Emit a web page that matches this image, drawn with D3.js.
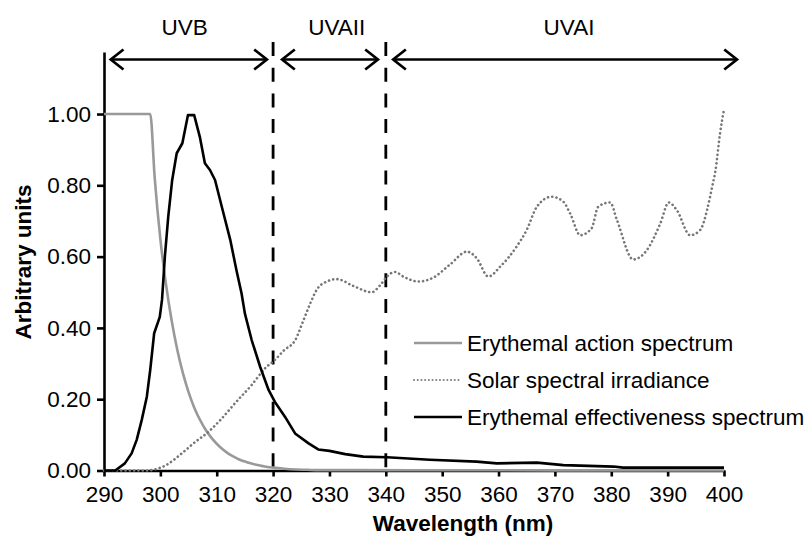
<!DOCTYPE html>
<html>
<head>
<meta charset="utf-8">
<script src="https://cdn.jsdelivr.net/npm/d3@7/dist/d3.min.js"></script>
<style>
  html, body { margin: 0; padding: 0; background: #fff; }
  svg { display: block; }
  text { font-family: "Liberation Sans", Arial, Helvetica, sans-serif; fill: #000; }
</style>
</head>
<body>
<svg id="chart" width="806" height="540"></svg>
<script>
// ---- Data ----
const xTicks = [290, 300, 310, 320, 330, 340, 350, 360, 370, 380, 390, 400];
const yTicks = [0, 0.2, 0.4, 0.6, 0.8, 1.0];

const bandBounds = [320, 340];
const bands = [
  { name: "UVB",   from: 291.2, to: 318.9, label: 304.3 },
  { name: "UVAII", from: 321.6, to: 338.6, label: 331.3 },
  { name: "UVAI",  from: 341.3, to: 402.3, label: 372.5 }
];

const legendLabels = ["Erythemal action spectrum", "Solar spectral irradiance", "Erythemal effectiveness spectrum"];

// Erythemal action spectrum  [wavelength nm, value]
const actionSpectrum = [
  [290,1.000],[292,1.000],[294,1.000],[296,1.000],[298.2,1.000],[299,0.820],[300,0.649],[301,0.522],
  [302,0.421],[303,0.339],[304,0.273],[305,0.220],[306,0.177],[307,0.143],[308,0.115],
  [309,0.093],[310,0.075],[311,0.060],[312,0.048],[313,0.039],[314,0.031],[315,0.025],
  [316,0.020],[317,0.016],[318,0.013],[319,0.010],[320,0.008],[322,0.005],[324,0.003],
  [326,0.002],[328,0.001],[335,0.001],[350,0.0007],[370,0.0004],[400,0.0002]
];

// Solar spectral irradiance (normalised)
const solarIrradiance = [
  [290,0],[297.5,0],[299,0.003],[301,0.015],[303.8,0.048],[306.1,0.079],[308.5,0.108],
  [310.9,0.146],[313.2,0.188],[316.2,0.240],[318.6,0.287],[320.3,0.310],[322,0.338],
  [323.9,0.365],[325.4,0.422],[326.6,0.469],[327.7,0.506],[329.5,0.530],[331.3,0.537],
  [334.2,0.518],[337.5,0.500],[339,0.520],[340.2,0.544],[341.6,0.557],[343.1,0.544],
  [345.8,0.530],[348.4,0.541],[351.4,0.578],[354.4,0.614],[356.1,0.596],[358.2,0.544],
  [360.3,0.572],[363.2,0.628],[365,0.675],[366.8,0.740],[369.4,0.768],[371.5,0.754],
  [372.7,0.721],[374.5,0.660],[376.5,0.679],[377.7,0.740],[379.8,0.752],[381,0.703],
  [383.9,0.592],[386.3,0.618],[388.7,0.693],[390.2,0.752],[391.6,0.731],[394,0.660],
  [395.8,0.675],[397,0.731],[397.9,0.796],[398.5,0.843],[399.3,0.946],[400,1.013]
];

// Erythemal effectiveness spectrum (normalised)
const effectiveness = [
  [290,0],[292,0],[293.7,0.020],[294.9,0.048],[295.8,0.086],[296.7,0.142],[297.6,0.207],
  [298.2,0.282],[298.9,0.385],[299.9,0.431],[300.3,0.480],[300.8,0.600],[301.4,0.712],
  [302.1,0.815],[302.9,0.890],[303.9,0.918],[304.9,0.997],[306.0,0.997],[307.0,0.936],
  [307.9,0.862],[308.8,0.843],[309.7,0.815],[310.9,0.740],[312.4,0.647],[313.5,0.562],
  [314.4,0.497],[315.0,0.440],[316.2,0.366],[317.7,0.291],[319.2,0.226],[320.3,0.193],
  [322.1,0.151],[323.9,0.104],[326.3,0.076],[328.0,0.059],[330,0.055],[332.8,0.046],
  [336,0.039],[340.2,0.037],[347.8,0.030],[356.1,0.025],[359.7,0.020],[366.8,0.022],
  [371.5,0.015],[380.4,0.011],[382.1,0.008],[400,0.008]
];

// ---- Chart ----
const svg = d3.select("#chart");
const FONT = 22.5;

const x = d3.scaleLinear().domain([290, 400]).range([104, 724]);
const y = d3.scaleLinear().domain([0, 1.174]).range([470.5, 52]);

// X axis
const xAxis = svg.append("g")
  .attr("transform", `translate(0,${y(0)})`)
  .call(d3.axisBottom(x).tickValues(xTicks).tickFormat(d3.format("d"))
        .tickSize(6).tickSizeOuter(0).tickPadding(10));
// Y axis
const yAxis = svg.append("g")
  .attr("transform", `translate(${x(290)},0)`)
  .call(d3.axisLeft(y).tickValues(yTicks).tickFormat(d3.format(".2f"))
        .tickSize(7).tickSizeOuter(0).tickPadding(6));

[xAxis, yAxis].forEach(g => {
  g.select(".domain").attr("stroke", "#000").attr("stroke-width", 2.6);
  g.selectAll(".tick line").attr("stroke", "#000").attr("stroke-width", 2.6);
  g.selectAll(".tick text").attr("font-size", FONT)
    .attr("font-family", "'Liberation Sans', Arial, Helvetica, sans-serif").attr("fill", "#000");
});

// Axis titles
svg.append("text")
  .attr("x", 463).attr("y", 531)
  .attr("text-anchor", "middle").attr("font-size", FONT).attr("font-weight", "bold")
  .text("Wavelength (nm)");
svg.append("text")
  .attr("transform", `translate(23,262) rotate(-90)`)
  .attr("text-anchor", "middle").attr("dominant-baseline", "central")
  .attr("font-size", FONT).attr("font-weight", "bold")
  .text("Arbitrary units");

// Dashed band boundaries
svg.selectAll("line.bound").data(bandBounds).enter().append("line")
  .attr("class", "bound")
  .attr("x1", d => x(d)).attr("x2", d => x(d))
  .attr("y1", 42).attr("y2", y(0))
  .attr("stroke", "#000").attr("stroke-width", 2.8)
  .attr("stroke-dasharray", "14,11.7");

// Band arrows
const arrowY = 59.5, headL = 12.7, headH = 10;
const bandG = svg.selectAll("g.band").data(bands).enter().append("g").attr("class", "band");
bandG.append("line")
  .attr("x1", d => x(d.from)).attr("x2", d => x(d.to))
  .attr("y1", arrowY).attr("y2", arrowY)
  .attr("stroke", "#000").attr("stroke-width", 2.7);
bandG.append("path")
  .attr("d", d => `M${x(d.from)+headL},${arrowY-headH} L${x(d.from)},${arrowY} L${x(d.from)+headL},${arrowY+headH}`)
  .attr("fill", "none").attr("stroke", "#000").attr("stroke-width", 2.7);
bandG.append("path")
  .attr("d", d => `M${x(d.to)-headL},${arrowY-headH} L${x(d.to)},${arrowY} L${x(d.to)-headL},${arrowY+headH}`)
  .attr("fill", "none").attr("stroke", "#000").attr("stroke-width", 2.7);
bandG.append("text")
  .attr("x", d => x(d.label)).attr("y", 35)
  .attr("text-anchor", "middle").attr("font-size", FONT)
  .text(d => d.name);

// Curves
const lineLin = d3.line().x(d => x(d[0])).y(d => y(d[1]));
const lineSmooth = d3.line().x(d => x(d[0])).y(d => y(d[1])).curve(d3.curveMonotoneX);

svg.append("path").datum(actionSpectrum)
  .attr("d", lineSmooth).attr("fill", "none")
  .attr("stroke", "#999999").attr("stroke-width", 2.6);

svg.append("path").datum(solarIrradiance)
  .attr("d", lineSmooth).attr("fill", "none")
  .attr("stroke", "#777777").attr("stroke-width", 2.6)
  .attr("stroke-linecap", "round").attr("stroke-dasharray", "0.1,4.2");

svg.append("path").datum(effectiveness)
  .attr("d", lineLin).attr("fill", "none")
  .attr("stroke", "#000").attr("stroke-width", 2.6).attr("stroke-linejoin", "round");

// Legend
const legendStyles = [
  { stroke: "#999999", width: 2.6, dash: null, cap: "butt" },
  { stroke: "#808080", width: 2.0, dash: "0.1,3.6", cap: "round" },
  { stroke: "#000", width: 2.6, dash: null, cap: "butt" }
];
const legendRows = [343, 380, 417];
const lg = svg.selectAll("g.leg").data(legendLabels).enter().append("g").attr("class", "leg");
lg.append("line")
  .attr("x1", 414).attr("x2", 462)
  .attr("y1", (d, i) => legendRows[i]).attr("y2", (d, i) => legendRows[i])
  .attr("stroke", (d, i) => legendStyles[i].stroke)
  .attr("stroke-width", (d, i) => legendStyles[i].width)
  .attr("stroke-dasharray", (d, i) => legendStyles[i].dash)
  .attr("stroke-linecap", (d, i) => legendStyles[i].cap);
lg.append("text")
  .attr("x", 467).attr("y", (d, i) => legendRows[i])
  .attr("dominant-baseline", "central").attr("font-size", FONT)
  .text(d => d);
</script>
</body>
</html>
